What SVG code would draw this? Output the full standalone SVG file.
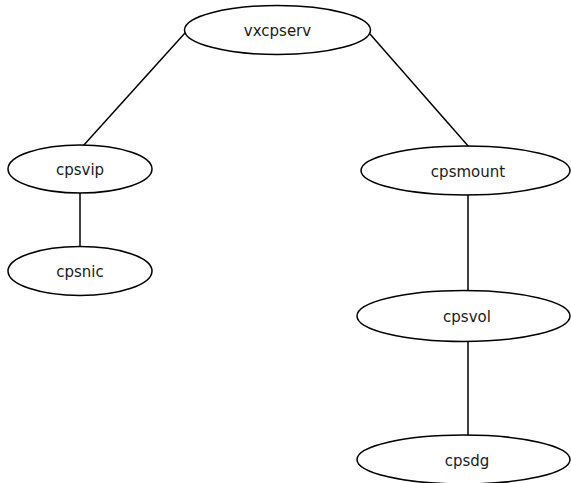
<svg xmlns="http://www.w3.org/2000/svg" width="571" height="483" viewBox="0 0 571 483">
<style>
.n ellipse{fill:#fff;stroke:#000;stroke-width:1.5}
.n text{font-family:"DejaVu Sans",sans-serif;font-size:15px;fill:#1a1a1a;text-anchor:middle}
.e line{stroke:#000;stroke-width:1.5}
</style>
<rect width="571" height="483" fill="#fff"/>
<g id="edges" class="e">
<line x1="185" y1="33" x2="83" y2="146"/>
<line x1="370" y1="34" x2="469" y2="147"/>
<line x1="80" y1="193" x2="80" y2="247"/>
<line x1="468" y1="195" x2="468" y2="291"/>
<line x1="468" y1="342" x2="468" y2="436"/>
</g>
<g id="vxcpserv" class="n"><ellipse cx="277.5" cy="30" rx="93" ry="24.5"/><text x="277.5" y="36">vxcpserv</text></g>
<g id="cpsvip" class="n"><ellipse cx="80" cy="169" rx="72" ry="24"/><text x="80" y="175">cpsvip</text></g>
<g id="cpsnic" class="n"><ellipse cx="80" cy="271" rx="72" ry="24.5"/><text x="80" y="277">cpsnic</text></g>
<g id="cpsmount" class="n"><ellipse cx="465.5" cy="170.5" rx="104.5" ry="24.5"/><text x="468" y="176.5">cpsmount</text></g>
<g id="cpsvol" class="n"><ellipse cx="463.5" cy="316" rx="106.5" ry="25.5"/><text x="467" y="322">cpsvol</text></g>
<g id="cpsdg" class="n"><ellipse cx="463.5" cy="459.5" rx="106.5" ry="24.5"/><text x="467" y="465.5">cpsdg</text></g>
</svg>
